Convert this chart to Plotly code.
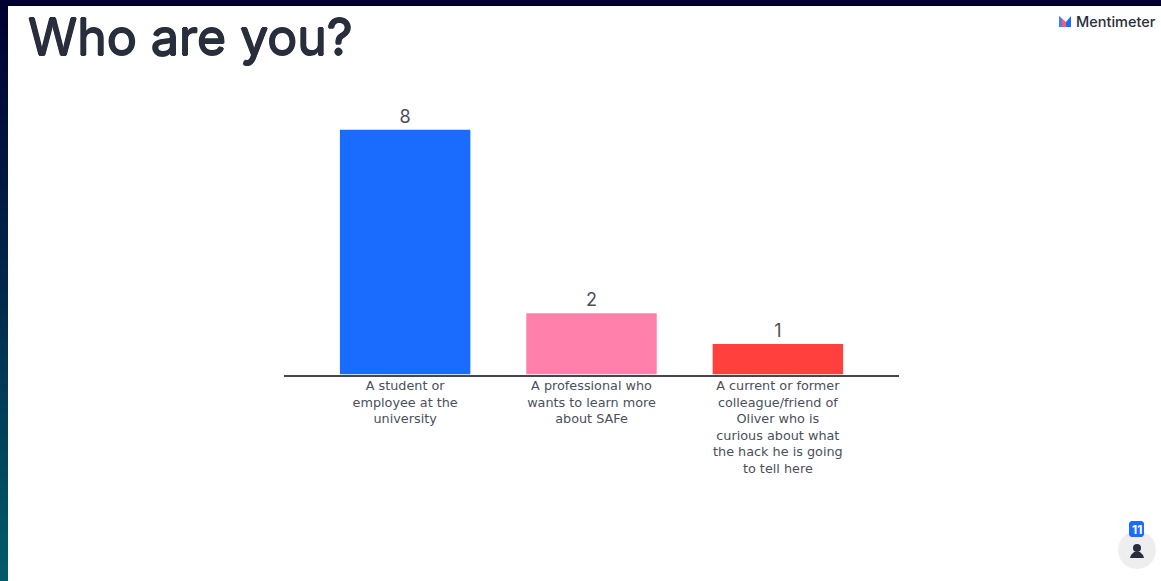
import plotly.graph_objects as go

W, H = 1161, 581

categories = [
    "A student or<br>employee at the<br>university",
    "A professional who<br>wants to learn more<br>about SAFe",
    "A current or former<br>colleague/friend of<br>Oliver who is<br>curious about what<br>the hack he is going<br>to tell here",
]
votes = [8, 2, 1]
bar_colors = ["#196cff", "#ff80ab", "#ff403d"]
title_text = "Who are you?"
brand_text = "Mentimeter"
respondents = "11"

INK = "#282e3b"
LABEL = "#4a4f5a"


def px(x):
    return x / W


def py(y):
    return 1 - y / H


def rect(x0, y0, x1, y1, color):
    return dict(type="rect", xref="paper", yref="paper", x0=px(x0), x1=px(x1),
                y0=py(y1), y1=py(y0), fillcolor=color, line_width=0, layer="below")


def poly(points, color):
    path = "M" + " L".join(f"{px(x):.5f},{py(y):.5f}" for x, y in points) + " Z"
    return dict(type="path", xref="paper", yref="paper", path=path,
                fillcolor=color, line_width=0)


def mix(stops, t):
    for (t0, c0), (t1, c1) in zip(stops, stops[1:]):
        if t <= t1:
            f = (t - t0) / (t1 - t0)
            r = [round(a + (b - a) * f) for a, b in zip(c0, c1)]
            return "rgb({},{},{})".format(*r)
    return "rgb({},{},{})".format(*stops[-1][1])


# Slide frame: navy band on top, navy-to-teal strip down the left edge
frame_stops = [(0, (0, 0, 48)), (150, (0, 20, 62)), (300, (0, 42, 78)), (581, (0, 92, 104))]
shapes = [rect(0, y, 8, y + 4, mix(frame_stops, y)) for y in range(0, H, 3)]
shapes.append(rect(0, 0, W, 6, "#000030"))

# Brand mark beside the wordmark
shapes += [
    poly([(1059, 16), (1066, 22), (1066, 27), (1059, 27)], "#ff5a6e"),
    poly([(1059, 16), (1062, 19), (1062, 27), (1059, 27)], "#3f7cff"),
    poly([(1066, 22), (1071, 16), (1071, 27), (1066, 27)], "#196cff"),
]

# Participant counter: grey disc, person glyph and a rounded blue badge
shapes += [
    dict(type="circle", xref="paper", yref="paper", x0=px(1118), x1=px(1156),
         y0=py(569), y1=py(531), fillcolor="#eeeeee", line_width=0),
    poly([(1131, 521), (1142, 521), (1144, 523), (1144, 535), (1142, 537),
          (1131, 537), (1129, 535), (1129, 523)], "#196cff"),
    dict(type="circle", xref="paper", yref="paper", x0=px(1133), x1=px(1141),
         y0=py(552), y1=py(544), fillcolor=INK, line_width=0),
    poly([(1130, 558), (1131, 555), (1134, 552), (1140, 552), (1143, 555), (1144, 558)], INK),
]

# The headline is a regular cut thickened with tight offset shadows
title_shadow = f"0.8px 0 0 {INK}, -0.8px 0 0 {INK}, 0 0.6px 0 {INK}, 0 -0.6px 0 {INK}"

annotations = [
    dict(text=title_text, x=px(25.5), y=py(37), xref="paper", yref="paper", xanchor="left",
         yanchor="middle", showarrow=False,
         font=dict(family="Inter", size=50, color=INK, weight=400, shadow=title_shadow)),
    dict(text=brand_text, x=px(1074), y=py(21.5), xref="paper", yref="paper", xanchor="left",
         yanchor="middle", showarrow=False,
         font=dict(family="Inter", size=14.5, color=INK, weight=500)),
    dict(text=respondents, x=px(1136.5), y=py(529), xref="paper", yref="paper", xanchor="center",
         yanchor="middle", showarrow=False,
         font=dict(family="Inter", size=12, color="white", weight=700)),
]

fig = go.Figure(go.Bar(
    x=categories,
    y=votes,
    width=0.7,
    marker=dict(color=bar_colors, line_width=0),
    text=votes,
    textposition="outside",
    textfont=dict(family="Inter", size=18, color=LABEL),
    cliponaxis=False,
))

fig.update_layout(
    width=W,
    height=H,
    margin=dict(l=0, r=0, t=0, b=0),
    paper_bgcolor="white",
    plot_bgcolor="white",
    showlegend=False,
    shapes=shapes,
    annotations=annotations,
    xaxis=dict(
        domain=[px(284), px(899)],
        range=[-0.65, 2.65],
        type="category",
        showline=True,
        linecolor="#41464f",
        linewidth=2,
        showgrid=False,
        ticks="",
        tickangle=0,
        automargin=False,
        ticklabelstandoff=-2,
        tickfont=dict(family="DejaVu Sans", size=12.8, color=LABEL),
    ),
    yaxis=dict(
        domain=[py(374.5), py(100)],
        range=[0, 274.5 / 30.6],
        visible=False,
    ),
)

fig.write_html("out.html", config=dict(displayModeBar=False))
